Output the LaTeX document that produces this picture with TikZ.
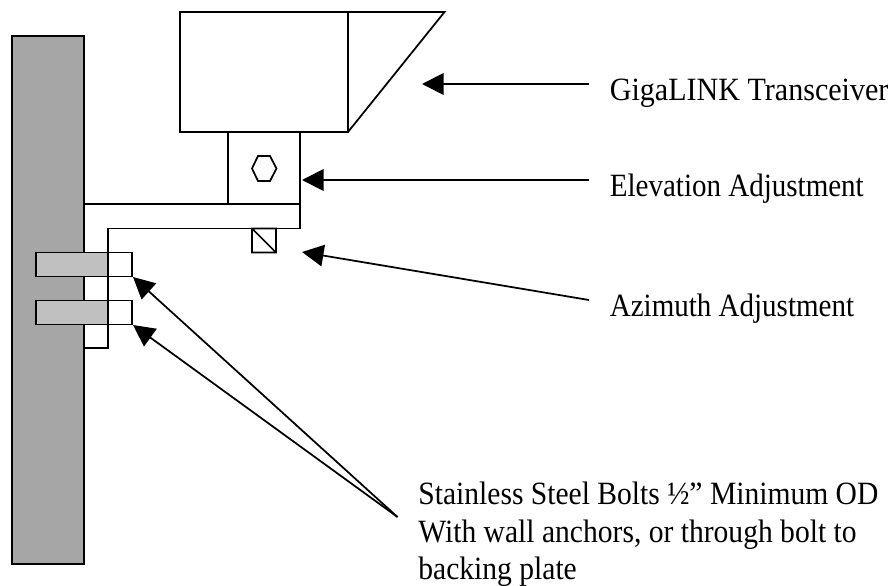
\documentclass[tikz,border=0pt]{standalone}
\usepackage{fontspec}
\setmainfont[FakeStretch=0.925]{Liberation Serif}
\newfontfamily\adjustfont[FakeStretch=0.893]{Liberation Serif}
\newfontfamily\boltsfont[FakeStretch=0.91]{Liberation Serif}
\usetikzlibrary{arrows.meta}
\tikzstyle{every node}=[font=\fontsize{32.5}{37.2}\selectfont]
\tikzstyle{every path}=[line width=1.75pt,line join=miter]
\tikzstyle{callout}=[anchor=north west,inner xsep=20pt,inner ysep=0pt,text height=16pt,text depth=5pt]
\tikzstyle{pointer}=[-{Triangle[length=21.5pt,width=21.5pt]}]
\definecolor{wallgray}{HTML}{A6A6A6}
\definecolor{boltgray}{HTML}{C0C0C0}
\begin{document}
\begin{tikzpicture}[x=1pt,y=-1pt]
  \useasboundingbox (0,0) rectangle (895,586);
  \draw[fill=wallgray] (12,36) rectangle (84,564);
  \draw[fill=white] (84,204)--(300,204)--(300,228.5)--(108,228.5)--(108,348)--(84,348)--cycle;
  \draw (180,12)rectangle(348,132)
  (348,12)--(444.5,12)--(348,132)
  (228,132)rectangle(300,204)
  (252,228.5)rectangle(276,252.5)
  (252,228.5)--(276,252.5)
  (258,156)--(270,156)--(276.5,168.5)--(270,181)--(258,181)--(252,168.5)--cycle
  ;
  \draw[fill=boltgray] (36,252.5) rectangle (108,276.5);
  \draw (108,252.5) rectangle (132,276.5);
  \draw[fill=boltgray] (36,300.5) rectangle (108,324.5);
  \draw (108,300.5) rectangle (132,324.5);
  \node[callout] (transceiver) at (589,84) {GigaLINK Transceiver};
  \node[callout] (elevation) at (589,180) {\adjustfont Elevation Adjustment};
  \node[callout] (azimuth) at (589,300) {\adjustfont Azimuth Adjustment};
  \node[anchor=north west,inner sep=0pt,align=left] (bolts) at (417.5,481.5) {\boltsfont Stainless Steel Bolts ½” Minimum OD\\\boltsfont With wall anchors, or through bolt to\\\boltsfont backing plate};
  \coordinate (tipcamera) at (422,84);
  \coordinate (tipelevation) at (302,180);
  \coordinate (tipazimuth) at (302,252);
  \coordinate (tipupper) at (133,277);
  \coordinate (tiplower) at (133,325);
  \coordinate (boltfoot) at (397.5,517);
  \draw[pointer] (transceiver.north west)--(tipcamera);
  \draw[pointer] (elevation.north west)--(tipelevation);
  \draw[pointer] (azimuth.north west)--(tipazimuth);
  \draw[pointer] (boltfoot)--(tipupper);
  \draw[pointer] (boltfoot)--(tiplower);
\end{tikzpicture}
\end{document}
